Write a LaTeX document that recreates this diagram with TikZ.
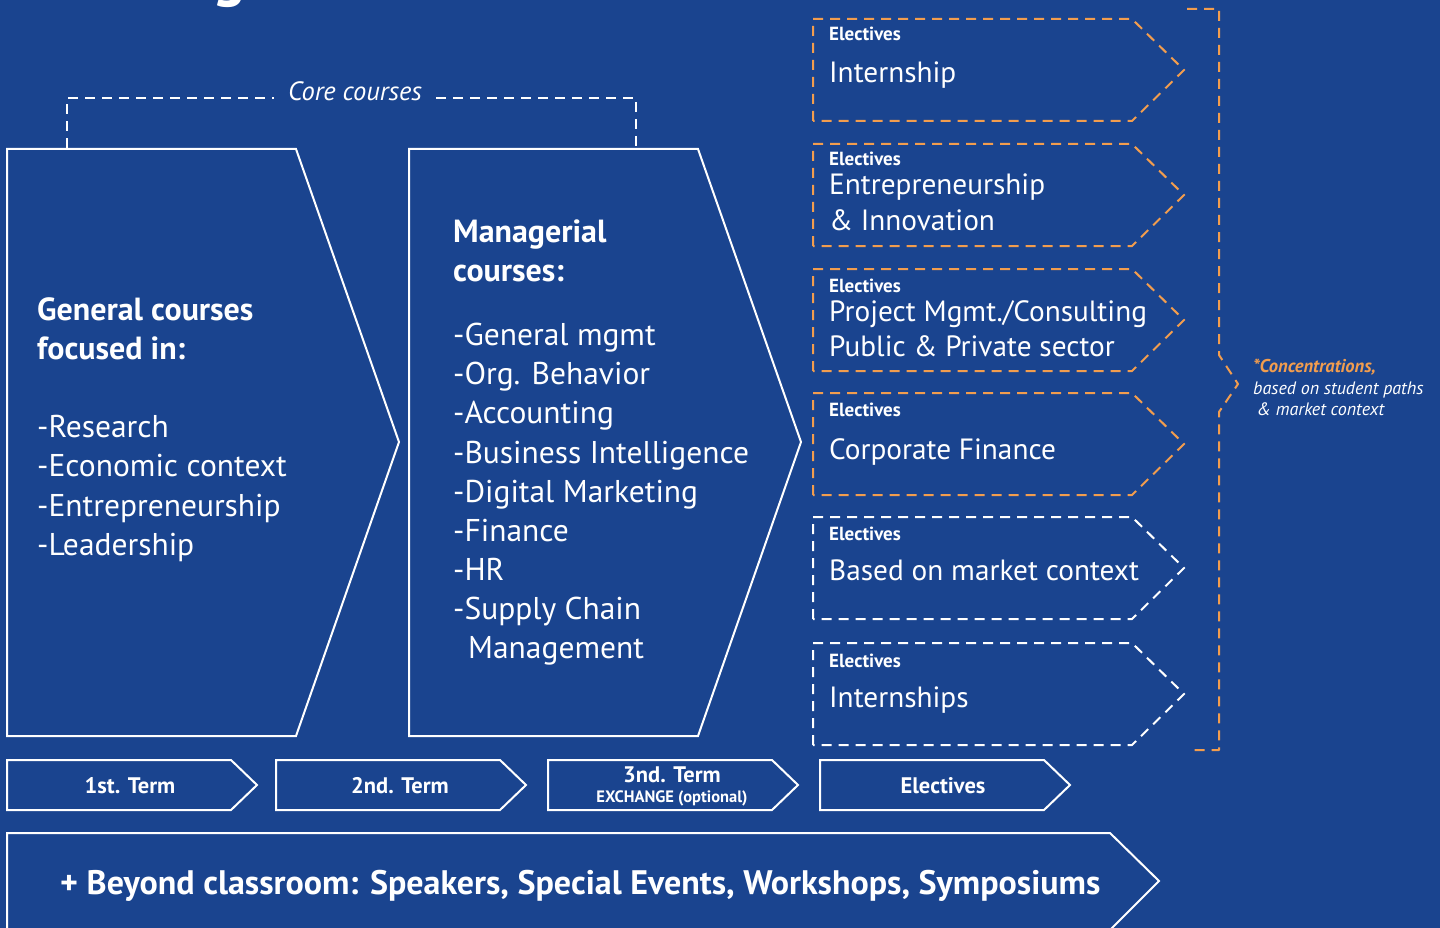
\documentclass[tikz,border=0pt]{standalone}
\usepackage{fontspec}
\setmainfont{PT Sans}
\definecolor{bg}{RGB}{26,68,143}
\definecolor{org}{RGB}{242,157,78}
\begin{document}
\begin{tikzpicture}[x=1pt,y=-1pt,
  shp/.style={draw=white,line width=2pt,line join=miter},
  wdash/.style={draw=white,line width=2pt,dash pattern=on 10pt off 7pt},
  odash/.style={draw=org,line width=2pt,dash pattern=on 10pt off 7pt},
  big/.style={text=white,anchor=base west,inner sep=0pt,font=\fontsize{31.5}{31.5}\selectfont},
  bigb/.style={big,font=\fontsize{32}{32}\selectfont\bfseries},
  elt/.style={text=white,anchor=base west,inner sep=0pt,font=\fontsize{19}{19}\selectfont\bfseries},
  elm/.style={text=white,anchor=base west,inner sep=0pt,font=\fontsize{29.3}{29.3}\selectfont},
  term/.style={text=white,anchor=base,inner sep=0pt,font=\fontsize{22.5}{22.5}\selectfont\bfseries},
  conc/.style={anchor=base west,inner sep=0pt,font=\fontsize{18}{18}\selectfont\itshape}]
\fill[bg] (0,0) rectangle (1440,928);
\useasboundingbox (0,0) rectangle (1440,928);
% title fragment
\node[text=white,anchor=base west,inner sep=0pt,font=\fontsize{62}{62}\selectfont\bfseries] (title) at (212,-5) {g};
% core courses bracket
\node[text=white,inner sep=0pt,anchor=base,font=\fontsize{26.5}{26.5}\selectfont\itshape] (core) at (355,101) {Core courses};
\coordinate (c1) at (67,148);
\coordinate (c2) at (636,148);
\draw[wdash] (c1) -- (67,98) -- ([xshift=-14pt]core.west |- 0,98);
\draw[wdash] ([xshift=14pt]core.east |- 0,98) -- (636,98) -- (c2);
% big pentagons
\draw[shp] (7,149) -- (296,149) -- (399,442) -- (296,736) -- (7,736) -- cycle;
\draw[shp] (409,149) -- (698,149) -- (801,442) -- (698,736) -- (409,736) -- cycle;
% left text
\node[bigb] (g1) at (37,320) {General courses};
\node[bigb] (g2) at (37,359) {focused in:};
\node[big] (g3) at (37,437) {-Research};
\node[big] (g4) at (37,476) {-Economic context};
\node[big] (g5) at (37,516) {-Entrepreneurship};
\node[big] (g6) at (37,555) {-Leadership};
% managerial
\node[bigb] (m1) at (453,242) {Managerial};
\node[bigb] (m2) at (453,281) {courses:};
\node[big] (m3) at (453,345) {-General mgmt};
\node[big] (m4) at (453,384) {-Org. Behavior};
\node[big] (m5) at (453,423) {-Accounting};
\node[big] (m6) at (453,463) {-Business Intelligence};
\node[big] (m7) at (453,502) {-Digital Marketing};
\node[big] (m8) at (453,541) {-Finance};
\node[big] (m9) at (453,580) {-HR};
\node[big] (m10) at (453,619) {-Supply Chain};
\node[big] (m11) at (468,658) {Management};
% electives boxes
\foreach \t/\c in {19/odash,144/odash,269/odash,393/odash,517/wdash,643/wdash}{
  \draw[\c] (813,\t+102) -- (813,\t) -- (1132,\t) -- (1184,\t+51) -- (1132,\t+102) -- cycle;
}
\node[elt] (e1) at (829,41) {Electives};
\node[elm] (e1t) at (829,83) {Internship};
\node[elt] (e2) at (829,166) {Electives};
\node[elm] (e2t) at (829,195) {Entrepreneurship};
\node[elm] (e2u) at (829,230) {\&~Innovation};
\node[elt] (e3) at (829,292) {Electives};
\node[elm] (e3t) at (829,321) {Project Mgmt./Consulting};
\node[elm] (e3u) at (829,356) {Public \&~Private sector};
\node[elt] (e4) at (829,416) {Electives};
\node[elm] (e4t) at (829,459) {Corporate Finance};
\node[elt] (e5) at (829,540) {Electives};
\node[elm] (e5t) at (829,580) {Based on market context};
\node[elt] (e6) at (829,667) {Electives};
\node[elm] (e6t) at (829,707) {Internships};
% orange bracket
\draw[odash,line join=round] (1187,9) -- (1219,9) -- (1219,355) -- (1238,384) -- (1219,412) -- (1219,750) -- (1190,750);
\node[conc,text=org,font=\fontsize{18.5}{18.5}\selectfont\itshape\bfseries] (k1) at (1253,372) {*Concentrations,};
\node[conc,text=white] (k2) at (1253,394) {based on student paths};
\node[conc,text=white] (k3) at (1257,415) {\&~market context};
% term arrows
\foreach \x in {7,276,548,820}{
  \draw[shp] (\x,760) -- (\x+224,760) -- (\x+250,785) -- (\x+224,810) -- (\x,810) -- cycle;
}
\node[term] (t1) at (130,793) {1st. Term};
\node[term] (t2) at (400,793) {2nd. Term};
\node[term] (t3) at (672,782) {3nd. Term};
\node[text=white,anchor=base,inner sep=0pt,font=\fontsize{16.5}{16.5}\selectfont\bfseries] (t3b) at (672,802) {EXCHANGE (optional)};
\node[term] (t4) at (943,793) {Electives};
% bottom arrow
\draw[shp] (7,940) -- (7,833) -- (1110,833) -- (1159,881) -- (1110,930) -- (1100,940);
\node[text=white,anchor=base west,inner sep=0pt,font=\fontsize{34}{34}\selectfont\bfseries] (beyond) at (60,894) {+ Beyond classroom: Speakers, Special Events, Workshops, Symposiums};
\end{tikzpicture}
\end{document}
